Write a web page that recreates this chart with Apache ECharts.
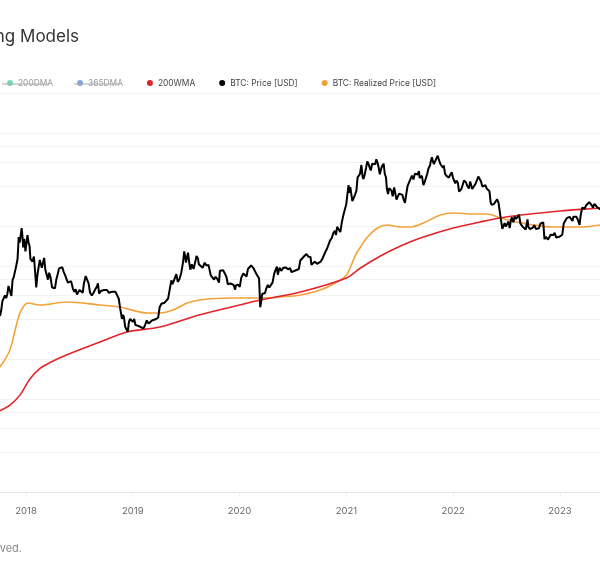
<!DOCTYPE html>
<html><head><meta charset="utf-8">
<script src="https://cdn.jsdelivr.net/npm/echarts@6/dist/echarts.min.js"></script>
<style>html,body{margin:0;padding:0;background:#fff}#c{width:600px;height:576px}</style>
</head><body><div id="c"></div>
<script>
const yearTicks = ['2018','2019','2020','2021','2022','2023'];
const yGridValues = [400,600,800,1000,2000,4000,6000,8000,10000,20000,40000,60000,80000,100000,200000];
const legendNames = ['200DMA','365DMA','200WMA','BTC: Price [USD]','BTC: Realized Price [USD]'];

const priceData = [
['2017-10-04',4210],['2017-10-08',4610],['2017-10-12',5430],['2017-10-16',5680],['2017-10-21',6010],['2017-10-25',5740],['2017-10-29',6140],
['2017-11-02',7080],['2017-11-07',7140],['2017-11-12',5950],['2017-11-16',7870],['2017-11-20',8250],['2017-11-24',8230],['2017-11-28',9900],
['2017-12-03',11300],['2017-12-07',16500],['2017-12-10',15000],['2017-12-13',16400],['2017-12-17',19300],['2017-12-20',16600],['2017-12-22',13800],['2017-12-26',16000],['2017-12-30',12900],
['2018-01-03',15100],['2018-01-06',17100],['2018-01-10',14900],['2018-01-13',14200],['2018-01-16',11300],['2018-01-19',11500],['2018-01-23',10800],['2018-01-28',11800],
['2018-02-01',9100],['2018-02-05',6900],['2018-02-09',8600],['2018-02-13',8600],['2018-02-17',11100],['2018-02-20',11400],['2018-02-24',9700],
['2018-03-04',11500],['2018-03-08',9400],['2018-03-12',9100],['2018-03-17',7900],['2018-03-21',8900],['2018-03-26',8200],['2018-03-31',6900],
['2018-04-05',6800],['2018-04-10',6800],['2018-04-15',8000],['2018-04-20',8800],['2018-04-24',9600],['2018-04-29',9400],
['2018-05-05',9800],['2018-05-10',9000],['2018-05-15',8500],['2018-05-20',8500],['2018-05-24',7500],['2018-05-29',7500],
['2018-06-04',7700],['2018-06-10',6800],['2018-06-15',6400],['2018-06-20',6700],['2018-06-24',6100],['2018-06-29',5900],
['2018-07-03',6600],['2018-07-09',6700],['2018-07-14',6300],['2018-07-18',7400],['2018-07-24',8400],['2018-07-29',8200],
['2018-08-03',7400],['2018-08-08',6300],['2018-08-14',6000],['2018-08-20',6300],['2018-08-26',6700],['2018-08-31',7000],
['2018-09-04',7400],['2018-09-08',6200],['2018-09-14',6500],['2018-09-20',6500],['2018-09-24',6600],['2018-09-30',6600],
['2018-10-05',6600],['2018-10-11',6300],['2018-10-16',6500],['2018-10-22',6400],['2018-10-28',6350],
['2018-11-03',6400],['2018-11-09',6400],['2018-11-14',5700],['2018-11-19',4800],['2018-11-22',4400],['2018-11-25',4000],['2018-11-29',4300],
['2018-12-02',4100],['2018-12-06',3500],['2018-12-10',3500],['2018-12-15',3200],['2018-12-19',3800],['2018-12-23',4000],['2018-12-28',3900],
['2019-01-01',3800],['2019-01-06',4000],['2019-01-10',3600],['2019-01-15',3600],['2019-01-20',3550],['2019-01-26',3600],['2019-01-31',3450],
['2019-02-07',3400],['2019-02-12',3600],['2019-02-18',3900],['2019-02-24',3700],
['2019-03-01',3800],['2019-03-08',3900],['2019-03-15',3950],['2019-03-22',4000],['2019-03-29',4100],
['2019-04-03',4900],['2019-04-09',5200],['2019-04-15',5100],['2019-04-20',5300],['2019-04-26',5200],
['2019-05-02',5700],['2019-05-08',5900],['2019-05-13',7800],['2019-05-17',7300],['2019-05-23',7900],['2019-05-30',8700],
['2019-06-04',7600],['2019-06-10',8000],['2019-06-16',8900],['2019-06-22',10700],['2019-06-26',12900],['2019-06-29',11900],
['2019-07-02',10600],['2019-07-09',12600],['2019-07-14',10300],['2019-07-17',9400],['2019-07-22',10300],['2019-07-28',9500],
['2019-08-03',10800],['2019-08-07',11900],['2019-08-12',11400],['2019-08-15',10300],['2019-08-21',10100],['2019-08-28',9700],
['2019-09-04',10600],['2019-09-10',10100],['2019-09-17',10200],['2019-09-22',10000],['2019-09-25',8500],['2019-09-30',8300],
['2019-10-06',7900],['2019-10-11',8300],['2019-10-17',8000],['2019-10-23',7500],['2019-10-26',9200],['2019-10-31',9200],
['2019-11-06',9300],['2019-11-12',8800],['2019-11-18',8200],['2019-11-22',7300],['2019-11-26',7200],
['2019-12-01',7400],['2019-12-07',7500],['2019-12-12',7200],['2019-12-17',6650],['2019-12-20',7150],['2019-12-27',7250],
['2020-01-02',6980],['2020-01-07',8150],['2020-01-14',8800],['2020-01-19',8700],['2020-01-25',8350],['2020-01-30',9500],
['2020-02-05',9600],['2020-02-10',10100],['2020-02-13',10300],['2020-02-17',9700],['2020-02-23',9950],['2020-02-27',8800],
['2020-03-03',8750],['2020-03-08',8050],['2020-03-12',4900],['2020-03-16',5000],['2020-03-19',6200],['2020-03-23',6400],['2020-03-28',6250],
['2020-04-02',6800],['2020-04-07',7200],['2020-04-12',6900],['2020-04-17',7100],['2020-04-23',7500],['2020-04-29',8800],
['2020-05-03',8900],['2020-05-08',9900],['2020-05-11',8600],['2020-05-17',9700],['2020-05-23',9200],['2020-05-30',9700],
['2020-06-02',9500],['2020-06-08',9750],['2020-06-15',9450],['2020-06-22',9650],['2020-06-27',9000],
['2020-07-03',9100],['2020-07-10',9250],['2020-07-16',9150],['2020-07-22',9500],['2020-07-27',11000],
['2020-08-02',11100],['2020-08-10',11900],['2020-08-17',12300],['2020-08-24',11750],['2020-08-31',11700],
['2020-09-03',10200],['2020-09-09',10200],['2020-09-15',10800],['2020-09-22',10400],['2020-09-28',10700],
['2020-10-05',10800],['2020-10-10',11300],['2020-10-16',11300],['2020-10-21',12800],['2020-10-27',13600],
['2020-11-01',13800],['2020-11-06',15600],['2020-11-12',16300],['2020-11-17',17700],['2020-11-22',18400],['2020-11-26',17100],['2020-11-30',19700],
['2020-12-06',19200],['2020-12-11',18000],['2020-12-16',21300],['2020-12-20',23500],['2020-12-26',26400],['2020-12-31',29000],
['2021-01-03',33000],['2021-01-08',40600],['2021-01-11',35500],['2021-01-14',39200],['2021-01-21',30800],['2021-01-25',32300],['2021-01-30',34300],
['2021-02-04',36900],['2021-02-08',46400],['2021-02-12',47900],['2021-02-16',49200],['2021-02-21',57500],['2021-02-25',47000],['2021-02-28',45100],
['2021-03-04',48400],['2021-03-09',54800],['2021-03-13',61200],['2021-03-17',58900],['2021-03-22',54500],['2021-03-25',52300],['2021-03-30',58800],
['2021-04-04',58700],['2021-04-09',58100],['2021-04-13',63500],['2021-04-17',60000],['2021-04-20',56500],['2021-04-25',49000],['2021-04-29',53500],
['2021-05-03',56600],['2021-05-08',58800],['2021-05-12',49200],['2021-05-16',46500],['2021-05-19',38300],['2021-05-23',34700],['2021-05-27',38500],['2021-05-31',37300],
['2021-06-04',36900],['2021-06-08',33400],['2021-06-13',39000],['2021-06-16',38300],['2021-06-21',31600],['2021-06-26',32200],['2021-06-30',35000],
['2021-07-06',34200],['2021-07-11',34300],['2021-07-16',31400],['2021-07-20',29800],['2021-07-25',35400],['2021-07-29',40000],
['2021-08-02',39200],['2021-08-07',44600],['2021-08-13',47800],['2021-08-18',44800],['2021-08-23',49500],['2021-08-28',48900],
['2021-09-01',48800],['2021-09-06',51700],['2021-09-08',46000],['2021-09-13',44900],['2021-09-16',47700],['2021-09-21',40600],['2021-09-26',43200],['2021-09-30',43800],
['2021-10-04',49200],['2021-10-08',53900],['2021-10-14',57300],['2021-10-16',60900],['2021-10-20',65900],['2021-10-24',60900],['2021-10-27',58400],['2021-10-31',61300],
['2021-11-04',61000],['2021-11-09',67500],['2021-11-12',64100],['2021-11-16',60100],['2021-11-19',58000],['2021-11-23',57500],['2021-11-27',54800],['2021-11-30',57000],
['2021-12-04',49400],['2021-12-09',47600],['2021-12-13',46700],['2021-12-17',46200],['2021-12-22',48600],['2021-12-27',50700],['2021-12-31',46300],
['2022-01-04',45900],['2022-01-08',41800],['2022-01-12',43900],['2022-01-17',42200],['2022-01-21',36300],['2022-01-24',36700],['2022-01-29',37900],
['2022-02-03',37000],['2022-02-07',44000],['2022-02-10',43600],['2022-02-14',42500],['2022-02-18',40000],['2022-02-24',38300],['2022-02-28',43200],
['2022-03-03',42000],['2022-03-07',38000],['2022-03-12',38800],['2022-03-17',41000],['2022-03-22',42400],['2022-03-28',47100],
['2022-04-02',45800],['2022-04-06',43200],['2022-04-11',39500],['2022-04-16',40400],['2022-04-21',40500],['2022-04-26',38100],['2022-04-30',37700],
['2022-05-05',36500],['2022-05-09',30100],['2022-05-12',28900],['2022-05-16',29800],['2022-05-20',29200],['2022-05-25',29500],['2022-05-31',31800],
['2022-06-05',29900],['2022-06-10',29100],['2022-06-13',22400],['2022-06-18',19000],['2022-06-22',20000],['2022-06-26',21000],['2022-06-30',19800],
['2022-07-04',20200],['2022-07-09',21600],['2022-07-13',19300],['2022-07-18',22400],['2022-07-21',23200],['2022-07-26',21300],['2022-07-30',23600],
['2022-08-04',22600],['2022-08-09',23100],['2022-08-14',24300],['2022-08-19',20800],['2022-08-24',21500],['2022-08-28',19600],
['2022-09-02',20000],['2022-09-06',18800],['2022-09-12',22400],['2022-09-15',19700],['2022-09-20',19000],['2022-09-25',18800],['2022-09-30',19400],
['2022-10-05',20300],['2022-10-11',19000],['2022-10-16',19200],['2022-10-21',19200],['2022-10-26',20800],['2022-10-31',20500],
['2022-11-05',21300],['2022-11-09',15900],['2022-11-14',16600],['2022-11-18',16700],['2022-11-21',15800],['2022-11-26',16500],['2022-11-30',17200],
['2022-12-05',17000],['2022-12-10',17100],['2022-12-14',17800],['2022-12-19',16400],['2022-12-24',16800],['2022-12-30',16600],
['2023-01-04',16850],['2023-01-09',17200],['2023-01-14',20900],['2023-01-19',21100],['2023-01-24',22900],['2023-01-29',23700],
['2023-02-03',23400],['2023-02-08',22900],['2023-02-13',21800],['2023-02-16',23500],['2023-02-21',24300],['2023-02-26',23500],
['2023-03-03',22400],['2023-03-09',20400],['2023-03-13',24100],['2023-03-18',27400],['2023-03-22',27300],['2023-03-27',27100],['2023-03-31',28500],
['2023-04-05',28200],['2023-04-11',30200],['2023-04-14',30500],['2023-04-19',28800],['2023-04-24',27500],['2023-04-29',29300],
['2023-05-04',29000],['2023-05-09',27600],['2023-05-14',26900],['2023-05-18',26800],['2023-05-23',27200],['2023-05-28',28000]
];

const realizedData = [
['2017-10-04',1742],['2017-11-07',2338],['2017-12-11',4435],['2018-01-08',5274],['2018-02-18',5094],['2018-05-21',5366],
['2018-09-11',5094],['2018-11-18',4920],['2019-02-19',4435],['2019-04-04',4435],['2019-05-19',4672],['2019-07-06',5274],
['2019-08-19',5554],['2019-12-01',5747],['2020-03-13',5747],['2020-05-20',5850],['2020-07-28',6056],['2020-10-04',6605],
['2020-11-24',7454],['2021-01-01',8562],['2021-02-01',12100],['2021-02-18',13900],['2021-03-14',16530],['2021-04-17',19320],
['2021-05-21',20350],['2021-07-05',19660],['2021-08-08',19660],['2021-09-21',21060],['2021-11-18',24200],['2022-01-01',25050],
['2022-03-10',24620],['2022-04-27',24620],['2022-06-11',22980],['2022-08-08',21440],['2022-10-02',20350],['2022-12-09',19660],
['2023-01-26',19660],['2023-03-22',19660],['2023-05-19',20350],['2023-05-31',20400]
];

const wma200Data = [
['2017-10-04',817],['2017-11-07',900],['2017-12-11',1070],['2018-01-15',1420],['2018-02-18',1700],['2018-03-24',1880],['2018-05-21',2150],['2018-09-11',2684],
['2018-12-12',3192],['2019-04-04',3480],['2019-08-19',4300],['2020-01-01',5094],['2020-03-13',5554],['2020-07-28',6380],
['2021-01-01',8128],['2021-02-18',9661],['2021-04-27',11900],['2021-07-05',14160],['2021-09-11',16260],['2022-01-01',19320],
['2022-04-03',21440],['2022-06-10',22980],['2022-09-21',24620],['2023-01-01',25940],['2023-05-18',27320],['2023-05-31',27500]
];

const colors = { dma200:'#52cfa4', dma365:'#5f8fd0', wma200:'#e3242b', price:'#000000', realized:'#f5a13a' };

const chart = echarts.init(document.getElementById('c'), null, {renderer:'canvas'});
chart.setOption({
  animation:false,
  backgroundColor:'#ffffff',
  textStyle:{fontFamily:'Inter, Roboto, sans-serif'},
  grid:{left:0,right:0,top:93,bottom:84,containLabel:false},
  legend:{
    left:2, top:74, padding:5, icon:'circle', itemWidth:6, itemHeight:6, itemGap:24,
    textStyle:{fontSize:8.4,color:'#444',fontFamily:'Inter, Roboto, sans-serif'},
    data:[
      {name:legendNames[0],textStyle:{color:'#9a9a9a'},itemStyle:{opacity:0.8}},
      {name:legendNames[1],textStyle:{color:'#9a9a9a'},itemStyle:{opacity:0.8}},
      {name:legendNames[2]},{name:legendNames[3]},{name:legendNames[4]}
    ],
    selectedMode:false
  },
  xAxis:{
    type:'time', min:'2017-10-04', max:'2023-05-18',
    minInterval:365*24*3600*1000, maxInterval:366*24*3600*1000,
    axisLine:{lineStyle:{color:'#e6e6e6'}},
    axisTick:{show:true,length:5,lineStyle:{color:'#eeeeee'}},
    splitLine:{show:false},
    axisLabel:{
      margin:14, fontSize:9.5, color:'#666', showMinLabel:false, showMaxLabel:false,
      formatter:function(v){const d=new Date(v);const y=String(d.getFullYear());return (d.getMonth()===0&&d.getDate()===1&&yearTicks.indexOf(y)>=0)?y:'';}
    }
  },
  yAxis:{
    type:'log', logBase:10, min:200, max:200000,
    axisLine:{show:false}, axisTick:{show:false}, axisLabel:{show:false}, splitLine:{show:false}
  },
  graphic:[
    {type:'text',x:79,y:37,style:{text:'Bitcoin: Pricing Models',fill:'#333',fontSize:17,fontFamily:'Inter, Roboto, sans-serif',align:'right',verticalAlign:'middle'}},
    {type:'text',x:22,y:549,style:{text:'© 2023 Glassnode. All Rights Reserved.',fill:'#888',fontSize:11,fontFamily:'Inter, Roboto, sans-serif',align:'right',verticalAlign:'middle'}},
    {type:'line',z:100,shape:{x1:2,y1:84,x2:48,y2:84},style:{stroke:'#aaa',lineWidth:1}},
    {type:'line',z:100,shape:{x1:74,y1:84,x2:120,y2:84},style:{stroke:'#aaa',lineWidth:1}}
  ],
  series:[
    {name:'grid',type:'line',data:[],silent:true,z:0,
      markLine:{silent:true,symbol:'none',label:{show:false},lineStyle:{color:'#f2f2f2',type:'solid',width:1},
        data:yGridValues.map(v=>({yAxis:v}))}},
    {name:legendNames[0],type:'line',data:[],color:colors.dma200,showSymbol:false},
    {name:legendNames[1],type:'line',data:[],color:colors.dma365,showSymbol:false},
    {name:legendNames[2],type:'line',data:wma200Data,color:colors.wma200,showSymbol:false,smooth:0.3,lineStyle:{width:1.6},z:8},
    {name:legendNames[4],type:'line',data:realizedData,color:colors.realized,showSymbol:false,smooth:0.3,lineStyle:{width:1.6},z:7},
    {name:legendNames[3],type:'line',data:priceData,color:colors.price,showSymbol:false,lineStyle:{width:2},z:9}
  ]
});
</script></body></html>
